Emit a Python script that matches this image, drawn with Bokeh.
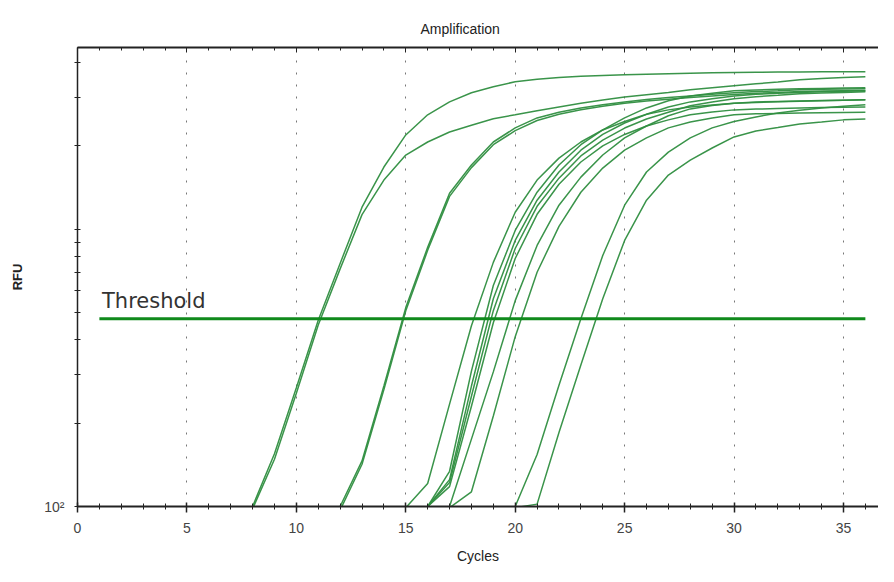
from bokeh.plotting import figure
from bokeh.models import Range1d, LinearAxis, FixedTicker
from bokeh.core.properties import value
from bokeh.embed import file_html
from bokeh.resources import INLINE

# ---- data ----
a1_cycles = list(range(8, 37))
a1_rfu = [100, 155, 268, 470, 753, 1202, 1678, 2191, 2590, 2884, 3110, 3268, 3410, 3480, 3530,
          3565, 3590, 3613, 3630, 3645, 3658, 3670, 3680, 3687, 3692, 3697, 3700, 3703, 3705]
a2_cycles = list(range(8, 37))
a2_rfu = [98, 148, 256, 452, 720, 1130, 1506, 1854, 2066, 2246, 2375, 2506, 2590, 2680, 2765,
          2850, 2930, 3000, 3060, 3120, 3189, 3245, 3300, 3350, 3400, 3467, 3500, 3530, 3555]
b1_cycles = list(range(12, 37))
b1_rfu = [100, 146, 272, 522, 861, 1350, 1706, 2066, 2323, 2524, 2645, 2740, 2815, 2883, 2940,
          2990, 3030, 3070, 3110, 3140, 3160, 3189, 3200, 3210, 3215]
b2_cycles = list(range(12, 37))
b2_rfu = [97, 142, 264, 508, 840, 1315, 1670, 2020, 2270, 2470, 2600, 2700, 2780, 2850, 2905,
          2950, 2990, 3030, 3065, 3095, 3120, 3140, 3155, 3165, 3170]
c1_cycles = list(range(15, 37))
c1_rfu = [99, 121, 234, 449, 760, 1153, 1506, 1807, 2066, 2284, 2450, 2600, 2698, 2765, 2810,
          2850, 2870, 2885, 2900, 2912, 2923, 2933]
c2_cycles = list(range(16, 37))
c2_rfu = [100, 134, 308, 627, 991, 1361, 1706, 2020, 2284, 2524, 2742, 2910, 3030, 3100, 3160,
          3185, 3200, 3215, 3225, 3235, 3243]
c3_cycles = list(range(16, 37))
c3_rfu = [100, 125, 272, 562, 912, 1274, 1610, 1930, 2200, 2420, 2600, 2765, 2883, 2960, 3030,
          3070, 3100, 3120, 3135, 3150, 3160]
c4_cycles = list(range(16, 37))
c4_rfu = [100, 122, 250, 509, 853, 1211, 1530, 1840, 2100, 2320, 2500, 2645, 2790, 2880, 2960,
          3010, 3045, 3085, 3105, 3120, 3136]
c5_cycles = list(range(16, 37))
c5_rfu = [100, 118, 230, 460, 785, 1133, 1455, 1750, 2000, 2200, 2360, 2483, 2590, 2650, 2698,
          2715, 2730, 2742, 2750, 2758, 2765]
c6_cycles = list(range(17, 37))
c6_rfu = [100, 175, 306, 553, 875, 1222, 1543, 1854, 2137, 2360, 2570, 2720, 2800, 2850, 2880,
          2895, 2905, 2915, 2925, 2933]
c7_cycles = list(range(17, 37))
c7_rfu = [99, 113, 212, 410, 700, 1025, 1361, 1663, 1930, 2137, 2323, 2440, 2524, 2590, 2610,
          2620, 2630, 2636, 2641, 2645]
d1_cycles = list(range(20, 37))
d1_rfu = [100, 154, 274, 476, 805, 1222, 1610, 1900, 2137, 2323, 2450, 2545, 2630, 2690, 2742,
          2780, 2813]
d2_cycles = list(range(20, 37))
d2_rfu = [99, 102, 185, 324, 562, 912, 1274, 1570, 1778, 1966, 2155, 2265, 2330, 2400, 2440,
          2483, 2500]

threshold_rfu = 476
threshold_cycles = [1, 36]
threshold_label = "Threshold"

x_major_ticks = [0, 5, 10, 15, 20, 25, 30, 35]
x_minor_ticks = list(range(0, 38))
y_major_ticks = [100]
y_minor_ticks = [200, 300, 400, 500, 600, 700, 800, 900, 1000, 2000, 3000, 4000]
y_tick_labels = {100: "10²"}

curves = [(a1_cycles, a1_rfu), (a2_cycles, a2_rfu), (b1_cycles, b1_rfu), (b2_cycles, b2_rfu),
          (c1_cycles, c1_rfu), (c2_cycles, c2_rfu), (c3_cycles, c3_rfu), (c4_cycles, c4_rfu),
          (c5_cycles, c5_rfu), (c6_cycles, c6_rfu), (c7_cycles, c7_rfu),
          (d1_cycles, d1_rfu), (d2_cycles, d2_rfu)]

FONT = "Liberation Sans"

p = figure(width=878, height=566, x_range=Range1d(0, 36.6), y_range=Range1d(100, 4530),
           y_axis_type="log", output_backend="svg", toolbar_location=None,
           min_border_left=77, min_border_right=0, min_border_top=47, min_border_bottom=60,
           title="Amplification")
p.outline_line_color = None
p.background_fill_color = "white"

p.title.align = "left"
p.title.offset = 343
p.title.standoff = 22
p.title.text_font = FONT
p.title.text_font_size = "14px"
p.title.text_font_style = "normal"
p.title.text_color = "#222222"

# x axis (bottom)
xa = p.xaxis[0]
xa.ticker = FixedTicker(ticks=x_major_ticks, minor_ticks=x_minor_ticks)
xa.axis_line_width = 2
xa.axis_line_color = "#222222"
xa.major_tick_in = 4
xa.major_tick_out = 6
xa.minor_tick_in = 3
xa.minor_tick_out = 3
xa.major_tick_line_width = 1.5
xa.major_tick_line_color = "#222222"
xa.minor_tick_line_color = "#222222"
xa.major_label_text_font = FONT
xa.major_label_text_font_size = "14px"
xa.major_label_text_color = "#444444"
xa.major_label_standoff = 10
xa.axis_label = "Cycles"
xa.axis_label_text_font = FONT
xa.axis_label_text_font_size = "14px"
xa.axis_label_text_font_style = "normal"
xa.axis_label_text_color = "#222222"
xa.axis_label_standoff = 12

# top axis (ticks only)
top = LinearAxis(ticker=FixedTicker(ticks=x_major_ticks, minor_ticks=x_minor_ticks),
                 major_label_overrides={t: "" for t in x_major_ticks},
                 major_tick_in=5, major_tick_out=0,
                 minor_tick_in=3, minor_tick_out=0, axis_line_width=2,
                 axis_line_color="#222222", major_tick_line_color="#222222",
                 minor_tick_line_color="#222222", major_label_standoff=0)
p.add_layout(top, "above")

# y axis
ya = p.yaxis[0]
ya.ticker = FixedTicker(ticks=y_major_ticks, minor_ticks=y_minor_ticks)
ya.major_label_overrides = y_tick_labels
ya.axis_line_width = 1.5
ya.axis_line_color = "#222222"
ya.major_tick_in = 3
ya.major_tick_out = 3
ya.minor_tick_in = 3
ya.minor_tick_out = 3
ya.major_tick_line_color = "#222222"
ya.minor_tick_line_color = "#222222"
ya.major_label_text_font = FONT
ya.major_label_text_font_size = "14px"
ya.major_label_text_color = "#444444"
ya.major_label_standoff = 10
ya.axis_label = "RFU"
ya.axis_label_text_font = FONT
ya.axis_label_text_font_size = "13px"
ya.axis_label_text_font_style = "bold"
ya.axis_label_text_color = "#222222"
ya.axis_label_standoff = 16

# grid
p.xgrid.ticker = FixedTicker(ticks=x_major_ticks[1:])
p.xgrid.grid_line_color = "#777777"
p.xgrid.grid_line_dash = "2 10"
p.xgrid.grid_line_width = 1
p.ygrid.visible = False

# curves
for cyc, rfu in curves:
    p.line(cyc, rfu, line_color="#2f8e40", line_width=1.5, line_alpha=0.95)

# threshold
p.line(threshold_cycles, [threshold_rfu, threshold_rfu], line_color="#108a1c", line_width=3)
p.text(x=[threshold_cycles[0] + 0.12], y=[threshold_rfu * 1.05], text=[threshold_label],
       text_font=value("DejaVu Sans"), text_font_size="21px", text_color="#333333",
       text_baseline="bottom", text_align="left")

open("out.html", "w").write(file_html(p, INLINE))
